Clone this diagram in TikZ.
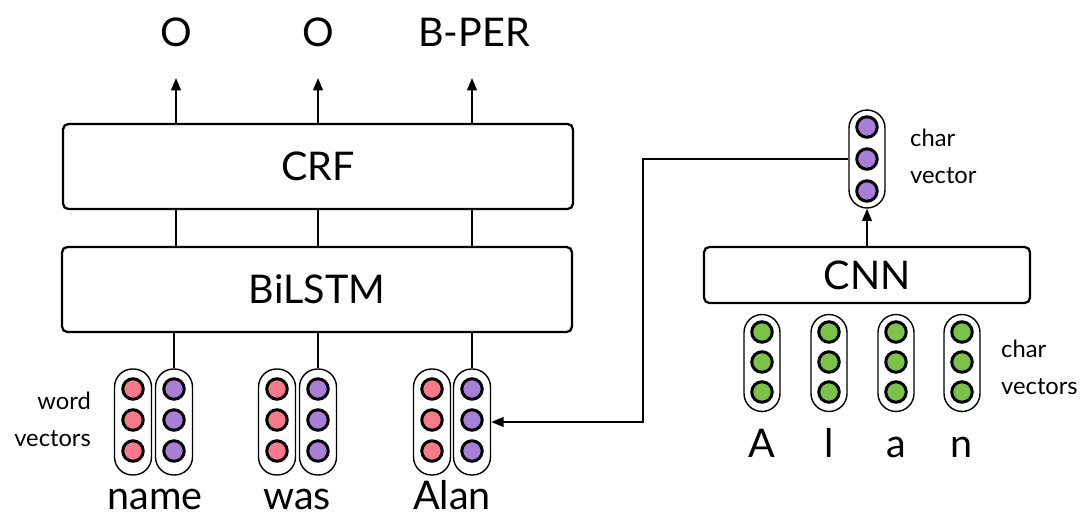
\documentclass[tikz,border=0pt]{standalone}
\usepackage{fontspec}
\setmainfont{Lato}
\usetikzlibrary{arrows.meta}
\definecolor{pinkc}{RGB}{246,121,140}
\definecolor{purplec}{RGB}{166,128,216}
\definecolor{greenc}{RGB}{122,195,72}
\begin{document}
\begin{tikzpicture}[x=0.02cm,y=-0.02cm,
  box/.style={draw, line width=1.3pt, rounded corners=3pt, inner sep=0pt},
  capsule/.style={draw, line width=0.8pt, rounded corners=0.36cm, minimum width=0.74cm, fill=white, inner sep=0pt},
  dot/.style={circle, draw, line width=1.7pt, minimum size=0.41cm, inner sep=0pt},
  conn/.style={line width=1.1pt},
  arr/.style={conn, -{Triangle[length=7pt,width=5.5pt]}},
  big/.style={font=\fontsize{22.5}{26}\selectfont},
  word/.style={font=\fontsize{22.5}{26}\selectfont, anchor=base, inner sep=0pt},
  small/.style={font=\fontsize{13.5}{21}\selectfont}
]
\useasboundingbox (0,0) rectangle (1085,517);

% boxes
\node[box, minimum width=10.2cm, minimum height=1.7cm, big] (crf) at (318,166.5) {CRF};
\node[box, minimum width=10.2cm, minimum height=1.7cm, big] (bilstm) at (317,289.5) {BiLSTM};
\node[box, minimum width=6.52cm, minimum height=1.12cm, big] (cnn) at (867,275) {CNN};

% output labels
\node[big, anchor=base] (o1) at (176,47) {O};
\node[big, anchor=base] (o2) at (318,47) {O};
\node[big, anchor=base] (o3) at (474,47) {B-PER};
\coordinate (t1) at (176,78);
\coordinate (t2) at (318,78);
\coordinate (t3) at (472,78);
\draw[arr] (crf.north -| t1) -- (t1);
\draw[arr] (crf.north -| t2) -- (t2);
\draw[arr] (crf.north -| t3) -- (t3);
\draw[conn] (bilstm.north -| t1) -- (crf.south -| t1);
\draw[conn] (bilstm.north -| t2) -- (crf.south -| t2);
\draw[conn] (bilstm.north -| t3) -- (crf.south -| t3);

% word vectors
\foreach \n/\xp/\xq in {1/133/174, 2/277/318, 3/432/472} {
  \node[capsule, minimum height=2.12cm] (w\n) at (\xp,422) {};
  \node[capsule, minimum height=2.12cm] (p\n) at (\xq,422) {};
  \foreach \k/\yy in {a/389, b/420, c/451} {
    \node[dot, fill=pinkc] (w\n\k) at (\xp,\yy) {};
    \node[dot, fill=purplec] (p\n\k) at (\xq,\yy) {};
  }
}
\draw[conn] (bilstm.south -| p1.north) -- (p1.north);
\draw[conn] (bilstm.south -| p2.north) -- (p2.north);
\draw[conn] (bilstm.south -| p3.north) -- (p3.north);

\node[word] (wname) at (155,509) {name};
\node[word] (wwas) at (297,509) {was};
\node[word] (walan) at (452,509) {Alan};
\node[small, align=right, anchor=east] (wv) at (97,419) {word\\vectors};

% char vector (top right)
\node[capsule, minimum width=0.72cm, minimum height=1.96cm] (cv) at (867,159) {};
\foreach \k/\yy in {a/127, b/159, c/191} {
  \node[dot, fill=purplec] (cv\k) at (867,\yy) {};
}
\node[small, align=left, anchor=west] (cvl) at (904,156) {char\\vector};
\draw[arr] (cnn.north) -- (cv.south);
\coordinate (bend) at (643,0);
\draw[arr] (cv.west) -- (cv.west -| bend) |- (p3.east);

% char vectors (green)
\foreach \n/\xx/\ch in {1/762/A, 2/829/l, 3/896/a, 4/962/n} {
  \node[capsule, minimum width=0.72cm, minimum height=1.94cm] (g\n) at (\xx,363) {};
  \foreach \k/\yy in {a/332, b/362, c/392} {
    \node[dot, fill=greenc] (g\n\k) at (\xx,\yy) {};
  }
  \node[word] (ch\n) at (\xx,457) {\ch};
}
\node[small, align=left, anchor=west] (gvl) at (995,367) {char\\vectors};
\end{tikzpicture}
\end{document}
